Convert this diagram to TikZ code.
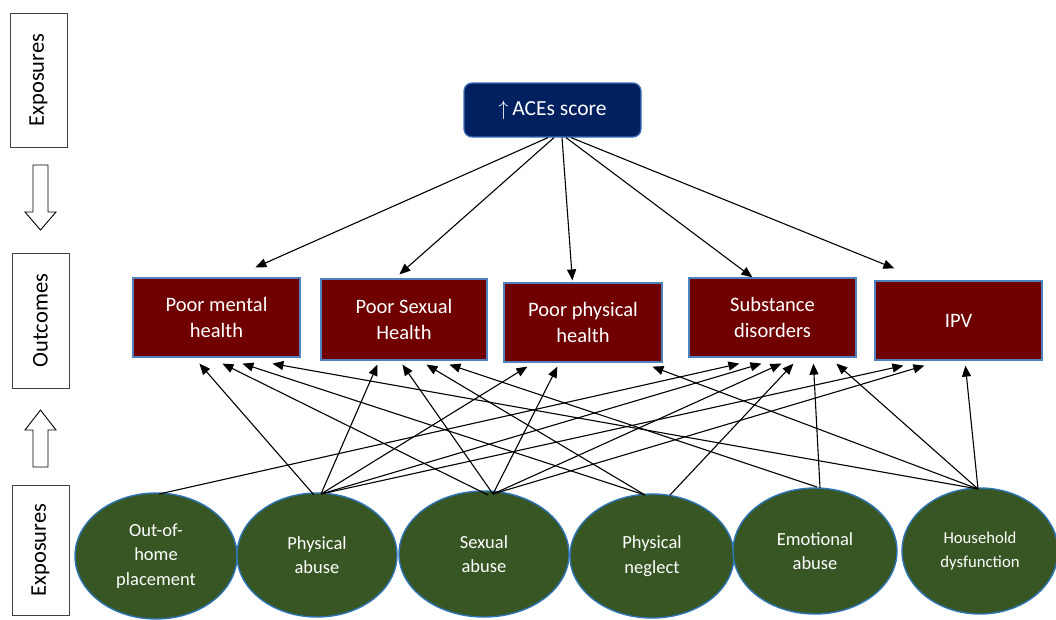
\documentclass[tikz,border=0pt]{standalone}
\usepackage{fontspec}
\setmainfont{Carlito}
\usetikzlibrary{arrows.meta,calc,shapes.geometric}
\definecolor{navy}{HTML}{002060}
\definecolor{aceborder}{HTML}{3B6FB6}
\definecolor{outred}{HTML}{700000}
\definecolor{outborder}{HTML}{4F81BD}
\definecolor{expgreen}{HTML}{375623}
\definecolor{expborder}{HTML}{2E75B6}
\definecolor{lblgray}{HTML}{404040}
\begin{document}
\begin{tikzpicture}[x=1pt,y=-1pt,
  arr/.style={line width=1.1pt,-{Triangle[length=11pt,width=9pt]}},
  lblbox/.style={draw=lblgray,line width=0.8pt,fill=white,rotate=90,inner sep=0pt,
    font=\fontsize{22.5}{27}\selectfont},
  acebox/.style={draw=aceborder,line width=1.2pt,fill=navy,text=white,rounded corners=8pt,
    inner sep=0pt,font=\fontsize{21.5}{26}\selectfont},
  outbox/.style={draw=outborder,line width=1.2pt,fill=outred,text=white,align=center,
    inner sep=0pt,font=\fontsize{20.5}{26.5}\selectfont},
  expell/.style={ellipse,draw=expborder,line width=1.4pt,fill=expgreen,text=white,align=center,
    inner sep=0pt,font=\fontsize{18.5}{24.5}\selectfont},
  blockarrow/.style={draw=black,line width=0.9pt,fill=white,line join=miter}
]
\useasboundingbox (0,0) rectangle (1056,619);

% left labels
\node[lblbox,minimum width=134,minimum height=57] (lx1) at (38.5,80) {Exposures};
\node[lblbox,minimum width=135,minimum height=57] (lo) at (40.5,320.5) {Outcomes};
\node[lblbox,minimum width=130,minimum height=57] (lx2) at (40.5,550) {Exposures};

% block arrows
\draw[blockarrow] (33,165) -- (48,165) -- (48,212) -- (56,212) -- (40.5,230) -- (25,212) -- (33,212) -- cycle;
\draw[blockarrow] (33,467) -- (48,467) -- (48,430) -- (56,430) -- (40.5,410) -- (25,430) -- (33,430) -- cycle;

% top node
\node[acebox,minimum width=177,minimum height=54] (ace) at (552.5,110) {$\uparrow$\,ACEs score};

% outcomes
\node[outbox,minimum width=167,minimum height=79] (pmh) at (216.5,317.5) {Poor mental\\health};
\node[outbox,minimum width=166,minimum height=81] (psh) at (404,319.5) {Poor Sexual\\Health};
\node[outbox,minimum width=158,minimum height=79] (pph) at (583,322.5) {Poor physical\\health};
\node[outbox,minimum width=167,minimum height=79] (sd) at (772.5,317.5) {Substance\\disorders};
\node[outbox,minimum width=167,minimum height=79] (ipv) at (958.5,320.5) {IPV};

% exposures
\node[expell,minimum width=162,minimum height=126] (e1) at (156,556) {Out-of-\\home\\placement};
\node[expell,minimum width=160,minimum height=124] (e2) at (317,555) {Physical\\abuse};
\node[expell,minimum width=170,minimum height=126] (e3) at (484,554) {Sexual\\abuse};
\node[expell,minimum width=164,minimum height=124] (e4) at (652,556) {Physical\\neglect};
\node[expell,minimum width=164,minimum height=126] (e5) at (815,551) {Emotional\\abuse};
\node[expell,minimum width=156,minimum height=126,font=\fontsize{16.7}{24}\selectfont] (e6) at (980,551) {Household\\dysfunction};

% source points on exposures
\coordinate (s1) at (159,494);
\coordinate (s2a) at (314,495);
\coordinate (s2) at (321,494);
\coordinate (s3a) at (488,495);
\coordinate (s3) at (493,494);
\coordinate (s4a) at (645,495);
\coordinate (s4b) at (670,495);
\coordinate (s5a) at (817,487);
\coordinate (s5b) at (820,488);
\coordinate (s6) at (978,489);

% ACEs score to outcomes
\draw[arr] ([xshift=-4.5pt]ace.south) -- ([xshift=123pt,yshift=10pt]pmh.north west);
\draw[arr] ([xshift=1.5pt]ace.south) -- ([xshift=79pt,yshift=4pt]psh.north west);
\draw[arr] ([xshift=9.5pt]ace.south) -- ([xshift=69pt,yshift=2pt]pph.north west);
\draw[arr] ([xshift=13.5pt]ace.south) -- ([xshift=64pt,yshift=0pt]sd.north west);
\draw[arr] ([xshift=18.5pt]ace.south) -- ([xshift=20pt,yshift=12pt]ipv.north west);

% exposures to outcomes
\draw[arr] (s1) -- ([xshift=51pt,yshift=-6pt]sd.south west);
\draw[arr] (s2a) -- ([xshift=67pt,yshift=-6pt]pmh.south west);
\draw[arr] (s2) -- ([xshift=57pt,yshift=-4pt]psh.south west);
\draw[arr] (s2) -- ([xshift=24pt,yshift=-4pt]pph.south west);
\draw[arr] (s2) -- ([xshift=73pt,yshift=-6pt]sd.south west);
\draw[arr] (s2) -- ([xshift=29pt,yshift=-5pt]ipv.south west);
\draw[arr] (s3a) -- ([xshift=90pt,yshift=-6pt]pmh.south west);
\draw[arr] (s3) -- ([xshift=82pt,yshift=-4pt]psh.south west);
\draw[arr] (s3) -- ([xshift=54pt,yshift=-4pt]pph.south west);
\draw[arr] (s3) -- ([xshift=93pt,yshift=-6pt]sd.south west);
\draw[arr] (s3) -- ([xshift=50pt,yshift=-5pt]ipv.south west);
\draw[arr] (s4a) -- ([xshift=110pt,yshift=-6pt]pmh.south west);
\draw[arr] (s4a) -- ([xshift=106pt,yshift=-4pt]psh.south west);
\draw[arr] (s4b) -- ([xshift=105pt,yshift=-6pt]sd.south west);
\draw[arr] (s5a) -- ([xshift=129pt,yshift=-4pt]psh.south west);
\draw[arr] (s5b) -- ([xshift=125pt,yshift=-6pt]sd.south west);
\draw[arr] (s6) -- ([xshift=140pt,yshift=-6pt]pmh.south west);
\draw[arr] (s6) -- ([xshift=149pt,yshift=-4pt]pph.south west);
\draw[arr] (s6) -- ([xshift=148pt,yshift=-6pt]sd.south west);
\draw[arr] (s6) -- ([xshift=91pt,yshift=-5pt]ipv.south west);
\end{tikzpicture}
\end{document}
